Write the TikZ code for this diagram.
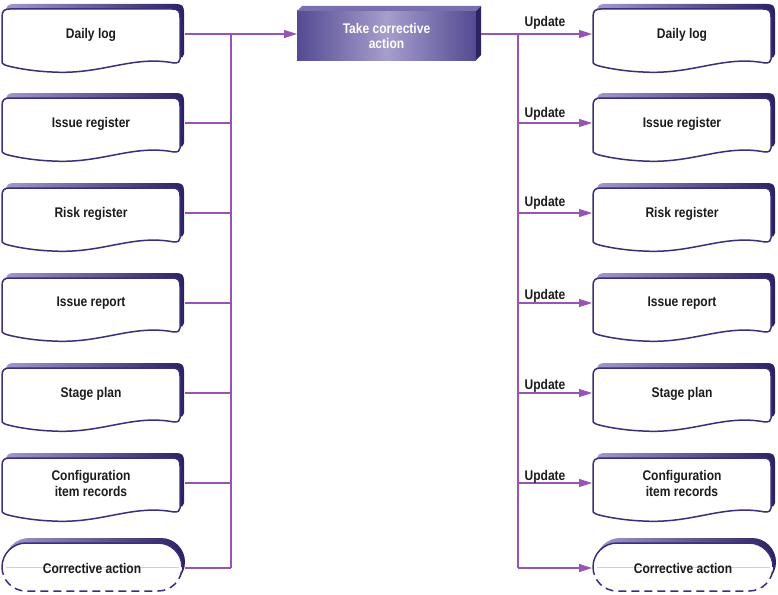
\documentclass[tikz,border=0pt]{standalone}
\usepackage{fontspec}
\setmainfont{Liberation Sans}[FakeStretch=0.86]
\usetikzlibrary{arrows.meta}
\definecolor{linep}{RGB}{150,85,180}
\definecolor{outl}{RGB}{59,46,122}
\definecolor{shl}{RGB}{160,152,205}
\definecolor{shd}{RGB}{42,34,98}
\definecolor{cedge}{RGB}{84,74,146}
\definecolor{cmid}{RGB}{165,158,205}
\definecolor{ctop}{RGB}{120,112,172}
\definecolor{cside}{RGB}{44,36,98}
\definecolor{textc}{RGB}{28,28,28}
\tikzset{
  conn/.style={draw=linep, line width=1.4pt},
  arr/.style={conn, -{Triangle[length=13pt,width=8pt]}},
  boxtext/.style={font=\bfseries\fontsize{14}{15.5}\selectfont, text=textc, align=center},
  bodyline/.style={draw=outl, line width=1.5pt, fill=white},
  outline/.style={draw=outl, line width=1.5pt},
  shadowfill/.style={left color=shl, right color=shd},
  faintline/.style={draw=black!18, line width=0.4pt},
  termdash/.style={dash pattern=on 8pt off 5pt},
}
\def\docpath{(0,28) -- (0,-16) .. controls (0,-22) and (2,-24) .. (8,-24) -- (170,-24) .. controls (176,-24) and (178,-22) .. (178,-16) -- (178,26) .. controls (178,29) and (176,30) .. (172,30) .. controls (130,22) and (100,42) .. (50,39) .. controls (25,38) and (5,33) .. (3,32) .. controls (0,31) and (0,30) .. (0,28) -- cycle}
\newcommand\mydoc[4]{%
  \begin{scope}[shift={(#1,#2)}]
    \path[shadowfill,shift={(4,-5)}] \docpath;
    \path[bodyline] \docpath;
  \end{scope}
  \node[boxtext] (#3) at (#1+89,#2+1.5) {#4};
  \coordinate (#3-e) at (#1+183,#2+1);
  \coordinate (#3-w) at (#1-1,#2+1);
}
\newcommand\myterm[4]{%
  \begin{scope}[shift={(#1,#2)}]
    \path[shadowfill,rounded corners=24] (3,-29) rectangle (183,19);
    \fill[white,rounded corners=24] (0,-24) rectangle (180,24);
    \draw[faintline] (4,0) -- (177,0);
    \draw[outline,rounded corners=24] (0,0) -- (0,-24) -- (180,-24) -- (180,0);
    \draw[outline,termdash,rounded corners=24] (0,0) -- (0,24) -- (180,24) -- (180,0);
  \end{scope}
  \node[boxtext] (#3) at (#1+90,#2+1) {#4};
  \coordinate (#3-e) at (#1+183,#2+1);
  \coordinate (#3-w) at (#1-1,#2+1);
}
\begin{document}
\begin{tikzpicture}[x=1pt,y=-1pt]
\useasboundingbox (0,0) rectangle (778,594);
% left column
\mydoc{2}{33}{L1}{Daily log}
\mydoc{2}{122}{L2}{Issue register}
\mydoc{2}{212}{L3}{Risk register}
\mydoc{2}{302}{L4}{Issue report}
\mydoc{2}{392}{L5}{Stage plan}
\mydoc{2}{482}{L6}{Configuration\\item records}
\myterm{2}{567}{L7}{Corrective action}
% right column
\mydoc{593}{33}{R1}{Daily log}
\mydoc{593}{122}{R2}{Issue register}
\mydoc{593}{212}{R3}{Risk register}
\mydoc{593}{302}{R4}{Issue report}
\mydoc{593}{392}{R5}{Stage plan}
\mydoc{593}{482}{R6}{Configuration\\item records}
\myterm{593}{567}{R7}{Corrective action}
% central activity
\shade[left color=cedge, right color=cedge, middle color=cmid] (297,11) rectangle (476,60);
\fill[ctop] (297,11) -- (302,6) -- (481,6) -- (476,11) -- cycle;
\fill[cside] (476,11) -- (481,6) -- (481,55) -- (476,60) -- cycle;
\node[boxtext, text=white] (act) at (386.5,36) {Take corrective\\action};
\coordinate (act-w) at (297,34);
\coordinate (act-e) at (481,34);
% buses
\coordinate (lbus) at (231,0);
\coordinate (rbus) at (518,0);
\draw[arr] (L1-e) -- (act-w);
\foreach \i in {2,...,7} \draw[conn] (L\i-e) -- (L\i-e -| lbus);
\draw[conn] (L1-e -| lbus) -- (L7-e -| lbus);
\draw[arr] (act-e) -- (R1-w);
\draw[conn] (act-e -| rbus) -- (R7-w -| rbus);
\foreach \i in {2,...,7} \draw[arr] (R\i-w -| rbus) -- (R\i-w);
% labels
\node[boxtext] (u1) at (545,23) {Update};
\node[boxtext] (u2) at (545,114) {Update};
\node[boxtext] (u3) at (545,203) {Update};
\node[boxtext] (u4) at (545,296) {Update};
\node[boxtext] (u5) at (545,386) {Update};
\node[boxtext] (u6) at (545,477) {Update};
\end{tikzpicture}
\end{document}
